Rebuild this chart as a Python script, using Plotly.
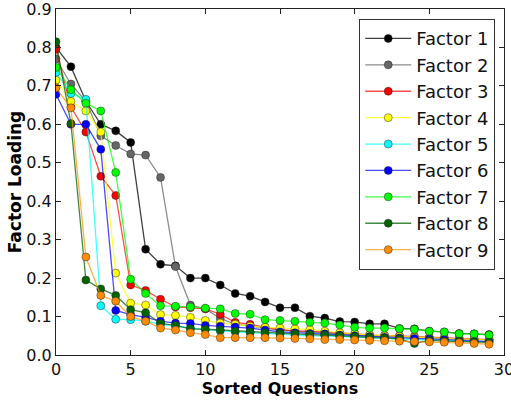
import plotly.graph_objects as go

questions = list(range(30))
factor_names = ["Factor 1", "Factor 2", "Factor 3", "Factor 4", "Factor 5",
                "Factor 6", "Factor 7", "Factor 8", "Factor 9"]
x_ticks = [0, 5, 10, 15, 20, 25, 30]
y_ticks = [0.0, 0.1, 0.2, 0.3, 0.4, 0.5, 0.6, 0.7, 0.8, 0.9]

f1 = [0.80, 0.75, 0.66, 0.60, 0.583, 0.553, 0.275, 0.236, 0.232, 0.20, 0.20, 0.182, 0.16, 0.153, 0.138,
      0.123, 0.123, 0.101, 0.096, 0.087, 0.086, 0.081, 0.081, 0.069, 0.068, 0.062, 0.060, 0.056, 0.055, 0.053]
f2 = [0.77, 0.705, 0.66, 0.57, 0.545, 0.523, 0.52, 0.462, 0.23, 0.13, 0.12, 0.095, 0.08, 0.075, 0.07,
      0.065, 0.062, 0.06, 0.058, 0.055, 0.052, 0.05, 0.05, 0.048, 0.046, 0.045, 0.043, 0.042, 0.04, 0.04]
f3 = [0.795, 0.645, 0.58, 0.465, 0.415, 0.182, 0.168, 0.145, 0.125, 0.123, 0.12, 0.106, 0.085, 0.08, 0.072,
      0.066, 0.063, 0.062, 0.06, 0.057, 0.055, 0.052, 0.05, 0.05, 0.048, 0.046, 0.045, 0.043, 0.042, 0.04]
f4 = [0.715, 0.66, 0.635, 0.58, 0.213, 0.135, 0.13, 0.105, 0.103, 0.098, 0.09, 0.083, 0.08, 0.075, 0.072,
      0.07, 0.068, 0.066, 0.062, 0.058, 0.055, 0.052, 0.05, 0.048, 0.046, 0.045, 0.043, 0.042, 0.041, 0.04]
f5 = [0.735, 0.68, 0.665, 0.128, 0.093, 0.092, 0.088, 0.08, 0.075, 0.07, 0.066, 0.063, 0.06, 0.058, 0.056,
      0.054, 0.052, 0.05, 0.05, 0.048, 0.046, 0.044, 0.043, 0.042, 0.04, 0.039, 0.038, 0.036, 0.035, 0.035]
f6 = [0.678, 0.60, 0.60, 0.535, 0.116, 0.105, 0.098, 0.088, 0.083, 0.082, 0.077, 0.075, 0.073, 0.07, 0.065,
      0.06, 0.058, 0.056, 0.055, 0.052, 0.05, 0.048, 0.046, 0.044, 0.043, 0.042, 0.04, 0.038, 0.036, 0.035]
f7 = [0.748, 0.69, 0.655, 0.635, 0.475, 0.197, 0.16, 0.128, 0.127, 0.125, 0.122, 0.12, 0.108, 0.106, 0.092,
      0.09, 0.088, 0.085, 0.083, 0.078, 0.072, 0.07, 0.07, 0.068, 0.067, 0.062, 0.06, 0.055, 0.055, 0.052]
f8 = [0.815, 0.602, 0.195, 0.172, 0.155, 0.118, 0.11, 0.082, 0.077, 0.068, 0.067, 0.065, 0.062, 0.06, 0.058,
      0.056, 0.055, 0.053, 0.052, 0.05, 0.048, 0.046, 0.044, 0.042, 0.03, 0.038, 0.036, 0.035, 0.034, 0.033]
f9 = [0.695, 0.643, 0.255, 0.155, 0.14, 0.1, 0.088, 0.07, 0.065, 0.058, 0.053, 0.045, 0.045, 0.045, 0.045,
      0.044, 0.043, 0.042, 0.04, 0.04, 0.039, 0.038, 0.037, 0.036, 0.035, 0.034, 0.033, 0.032, 0.03, 0.028]

series = [f1, f2, f3, f4, f5, f6, f7, f8, f9]
marker_colors = ["#000000", "#666666", "#ff0000", "#ffff00", "#00ffff",
                 "#0000ff", "#00ff00", "#006400", "#ff8c00"]
line_colors = ["rgba(0,0,0,0.75)", "rgba(102,102,102,0.75)", "rgba(255,0,0,0.7)",
               "rgba(255,255,0,0.75)", "rgba(0,255,255,0.75)", "rgba(0,0,255,0.7)",
               "rgba(0,255,0,0.75)", "rgba(0,100,0,0.75)", "rgba(255,140,0,0.7)"]

fig = go.Figure()
for i, (name, vals, mc, lc) in enumerate(zip(factor_names, series, marker_colors, line_colors)):
    fig.add_trace(go.Scatter(
        x=questions, y=vals, name=name, mode="lines+markers",
        line=dict(color=lc, width=1.3),
        marker=dict(color=mc, size=8, line=dict(color="rgba(40,40,40,0.8)", width=0.6)),
    ))

axis_common = dict(
    showgrid=False, zeroline=False, showline=True, linecolor="#222", linewidth=1.2,
    mirror="allticks", ticks="inside", ticklen=5, tickcolor="#222", automargin=False,
    tickmode="array", tickfont=dict(family="DejaVu Sans", size=16, color="#111"),
)
fig.update_xaxes(range=[0, 30], tickvals=x_ticks, ticktext=[str(v) for v in x_ticks],
                 **axis_common,
                 title=dict(text="<b>Sorted Questions</b>", standoff=0,
                            font=dict(family="DejaVu Sans", size=16, color="#000")))
fig.update_yaxes(range=[0, 0.9], tickvals=y_ticks, ticktext=[f"{v:.1f}" for v in y_ticks],
                 **axis_common,
                 title=dict(text="<b>Factor Loading</b>", standoff=0,
                            font=dict(family="DejaVu Sans", size=17, color="#000")))

# figure is a little larger than the window; the page is shifted so the plot area
# lands at the reference position and edge labels are not dropped
fig.update_layout(
    width=518, height=411,
    margin=dict(l=56, r=14, t=19, b=46),
    paper_bgcolor="white", plot_bgcolor="white",
    legend=dict(x=0.98, y=0.971, xanchor="right", yanchor="top",
                bgcolor="white", bordercolor="#333", borderwidth=1.2,
                font=dict(family="DejaVu Sans", size=18, color="#111"),
                itemwidth=46, tracegroupgap=0),
    showlegend=True,
)

fig.write_html(
    "out.html",
    config={"displayModeBar": False},
    post_script=("document.body.style.margin='0';document.body.style.marginTop='-10px';"
                 "document.body.style.overflow='hidden';"),
)
